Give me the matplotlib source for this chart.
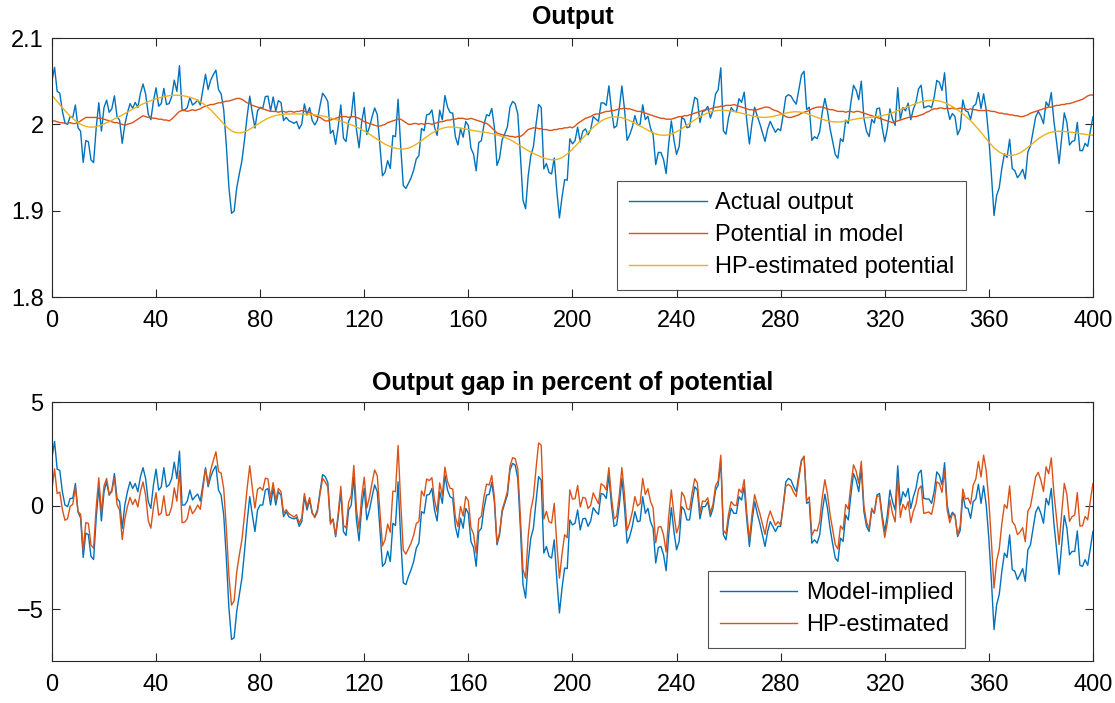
import matplotlib
matplotlib.use("Agg")
import matplotlib.pyplot as plt
import numpy as np

plt.rcParams["font.family"] = ["Liberation Sans", "DejaVu Sans"]

# model-implied output gap, percent of potential (t = 0..400)
model_gap = [
    2.3, 3.1, 1.76, 1.7, 0.67, 0.03, -0.05, 0.35, 0.35, 1.07,
    -0.29, -0.6, -2.5, -1.33, -1.4, -2.45, -2.6, -0.6, 0.9, -0.74,
    0.67, 1.15, 0.5, 0.75, 1.55, 0.35, 0.19, -1.1, 0.03, 0.67,
    1.15, 0.83, 1.07, 0.67, 1.4, 1.83, 1.3, 0.19, -0.13, 1.0,
    1.76, 0.75, 0.9, 1.83, 0.9, 1.0, 1.3, 2.1, 1.3, 2.63,
    0.03, 0.03, 0.22, 0.75, 0.27, 0.43, 0.56, 0.22, 1.0, 1.83,
    0.91, 1.4, 1.71, 1.92, 0.75, 0.51, -0.45, -2.53, -4.94, -6.46,
    -6.38, -5.1, -4.3, -3.5, -2.2, -0.77, 0.43, -0.45, -1.25, -0.21,
    0.03, 0.03, 0.75, 0.83, 0.03, 0.83, 0.03, 0.67, 0.51, -0.53,
    -0.29, -0.53, -0.6, -0.64, -0.58, -1.0, -0.77, 0.43, -0.21, 0.27,
    -0.37, -0.53, -0.21, 0.67, 1.5, 1.4, 1.12, -0.77, -0.64, -1.5,
    -0.53, 0.67, -1.25, -1.44, -0.21, 0.03, 1.4, -0.69, -1.7, -0.13,
    0.83, -0.69, -0.21, 0.43, 1.0, 0.67, -1.09, -2.93, -2.77, -2.2,
    -2.7, -0.85, -0.96, 1.15, -1.57, -3.73, -3.81, -3.41, -3.09, -2.69,
    -2.05, -1.81, -0.29, -0.37, 0.51, 0.54, 0.83, -0.21, -0.74, 0.67,
    0.11, 1.47, 0.75, 0.43, 0.35, -1.0, -1.54, -0.6, -1.09, -0.13,
    -0.37, -1.73, -2.02, -2.93, -1.25, -1.09, -0.13, 0.51, 0.54, 1.12,
    0.19, -1.89, -1.41, -0.29, 0.11, 0.51, 1.71, 2.04, 1.96, 1.31,
    -1.09, -3.81, -4.46, -2.69, -1.57, -1.09, 0.19, 1.4, 1.23, -2.29,
    -1.97, -2.45, -2.53, -1.65, -3.57, -5.18, -3.97, -3.01, -3.04, -0.69,
    -0.93, -0.85, -0.21, -1.17, -0.64, -0.61, -1.0, -0.74, -0.1, -0.29,
    -0.42, 0.59, 0.54, 0.35, 1.47, 0.03, -1.0, -0.93, 0.03, 1.31,
    -0.05, -1.81, -1.49, -1.0, -0.29, -0.77, -0.74, 0.43, -0.37, -0.13,
    -0.77, -1.09, -2.77, -2.02, -1.97, -2.37, -3.14, -1.41, -0.1, -1.25,
    -2.13, -1.73, -0.05, -0.21, -0.69, -0.69, 0.19, 0.91, 0.75, -0.64,
    -0.05, -0.05, 0.19, -0.53, -0.13, 0.75, 1.0, 2.2, -1.41, -1.65,
    -0.69, -0.13, -0.37, -0.37, 0.43, 0.27, 0.91, -0.69, -1.97, -0.77,
    0.19, -0.37, -0.85, -1.41, -1.97, -1.25, -0.77, -1.0, -1.25, -1.0,
    -1.0, 0.03, 1.15, 1.31, 1.23, 0.91, 0.67, 1.47, 2.2, 2.36,
    0.11, 0.19, -1.81, -1.65, -1.81, -1.41, -0.29, 0.55, -0.13, -1.09,
    -1.85, -2.53, -2.69, -1.57, -1.73, -0.45, -0.69, 0.51, 1.55, 1.23,
    0.67, 1.79, -0.29, -1.0, -1.25, -0.21, -0.37, 0.51, 0.59, -0.45,
    -1.25, -0.45, 0.75, 0.19, -0.21, 1.92, 0.03, 0.67, 0.43, 0.83,
    -0.13, 0.43, 0.83, 1.55, 1.71, 0.35, 0.32, 0.32, 0.11, 0.67,
    1.63, 1.47, 1.0, 2.07, 0.03, -0.61, -0.32, -0.45, -1.49, -1.2,
    0.51, -0.1, -0.13, -0.61, 0.19, 0.32, 1.03, 0.11, 0.96, 0.03,
    -1.57, -3.65, -5.98, -4.78, -4.29, -3.17, -2.29, -2.5, -1.41, -3.09,
    -3.17, -3.57, -3.33, -3.04, -3.65, -2.13, -1.89, -1.09, -0.32, -0.05,
    -0.37, -0.85, 0.35, 0.03, 0.83, -0.85, -2.05, -3.33, -1.89, -0.48,
    -1.09, -2.37, -2.21, -2.21, -1.22, -2.88, -2.93, -2.61, -2.88, -2.05,
    -1.25,
]

# potential output in the model (t = 0..400)
potential = [
    2.004, 2.004, 2.003, 2.002, 2.002, 2.001, 2.001, 2.002, 2.001, 2.001,
    2.002, 2.004, 2.006, 2.008, 2.008, 2.008, 2.008, 2.008, 2.007, 2.007,
    2.006, 2.005, 2.004, 2.003, 2.002, 2.002, 2.001, 2.000, 1.999, 2.000,
    2.001, 2.002, 2.004, 2.006, 2.008, 2.010, 2.009, 2.008, 2.008, 2.007,
    2.007, 2.006, 2.006, 2.005, 2.005, 2.004, 2.006, 2.009, 2.012, 2.015,
    2.016, 2.016, 2.015, 2.016, 2.017, 2.016, 2.017, 2.018, 2.020, 2.021,
    2.022, 2.023, 2.023, 2.024, 2.025, 2.025, 2.026, 2.027, 2.027, 2.028,
    2.029, 2.030, 2.030, 2.029, 2.027, 2.025, 2.024, 2.022, 2.021, 2.020,
    2.019, 2.018, 2.017, 2.016, 2.015, 2.015, 2.015, 2.014, 2.015, 2.015,
    2.014, 2.015, 2.015, 2.014, 2.015, 2.015, 2.016, 2.015, 2.015, 2.014,
    2.012, 2.010, 2.009, 2.008, 2.006, 2.004, 2.004, 2.005, 2.006, 2.007,
    2.008, 2.009, 2.009, 2.009, 2.008, 2.009, 2.009, 2.008, 2.007, 2.005,
    2.003, 2.002, 2.001, 2.000, 1.999, 1.998, 1.998, 1.999, 2.000, 2.002,
    2.003, 2.004, 2.005, 2.006, 2.006, 2.004, 2.002, 2.000, 2.000, 2.001,
    2.001, 2.000, 2.001, 2.000, 2.001, 2.001, 2.000, 2.001, 2.002, 2.003,
    2.003, 2.004, 2.005, 2.005, 2.006, 2.006, 2.007, 2.007, 2.007, 2.006,
    2.006, 2.007, 2.006, 2.005, 2.004, 2.003, 2.002, 2.001, 1.999, 1.996,
    1.993, 1.990, 1.989, 1.988, 1.987, 1.987, 1.986, 1.986, 1.985, 1.986,
    1.986, 1.988, 1.991, 1.994, 1.995, 1.996, 1.996, 1.995, 1.995, 1.994,
    1.994, 1.993, 1.993, 1.994, 1.994, 1.995, 1.995, 1.996, 1.996, 1.997,
    1.996, 1.998, 2.001, 2.003, 2.005, 2.007, 2.008, 2.009, 2.011, 2.012,
    2.012, 2.013, 2.014, 2.015, 2.015, 2.016, 2.016, 2.017, 2.018, 2.018,
    2.019, 2.018, 2.018, 2.017, 2.016, 2.015, 2.015, 2.014, 2.013, 2.012,
    2.011, 2.010, 2.009, 2.008, 2.007, 2.007, 2.006, 2.006, 2.006, 2.007,
    2.008, 2.009, 2.009, 2.010, 2.010, 2.011, 2.012, 2.013, 2.014, 2.015,
    2.016, 2.017, 2.017, 2.018, 2.019, 2.020, 2.020, 2.021, 2.021, 2.022,
    2.022, 2.022, 2.023, 2.022, 2.021, 2.020, 2.019, 2.018, 2.017, 2.017,
    2.016, 2.017, 2.018, 2.019, 2.020, 2.020, 2.019, 2.017, 2.016, 2.015,
    2.013, 2.011, 2.009, 2.008, 2.008, 2.009, 2.010, 2.011, 2.013, 2.014,
    2.015, 2.016, 2.018, 2.019, 2.020, 2.020, 2.020, 2.019, 2.018, 2.017,
    2.017, 2.016, 2.015, 2.015, 2.015, 2.014, 2.015, 2.015, 2.014, 2.015,
    2.015, 2.014, 2.013, 2.012, 2.011, 2.010, 2.009, 2.008, 2.007, 2.006,
    2.005, 2.004, 2.003, 2.002, 2.003, 2.004, 2.005, 2.006, 2.007, 2.008,
    2.008, 2.009, 2.009, 2.010, 2.011, 2.012, 2.014, 2.015, 2.017, 2.018,
    2.018, 2.019, 2.019, 2.018, 2.019, 2.018, 2.019, 2.018, 2.018, 2.019,
    2.018, 2.018, 2.017, 2.018, 2.017, 2.017, 2.016, 2.016, 2.016, 2.016,
    2.016, 2.015, 2.015, 2.014, 2.013, 2.013, 2.012, 2.012, 2.011, 2.011,
    2.010, 2.010, 2.009, 2.009, 2.010, 2.011, 2.013, 2.014, 2.015, 2.016,
    2.017, 2.018, 2.019, 2.020, 2.020, 2.021, 2.022, 2.022, 2.023, 2.023,
    2.024, 2.024, 2.025, 2.026, 2.027, 2.028, 2.029, 2.031, 2.033, 2.034,
    2.034,
]

x_ticks = [0, 40, 80, 120, 160, 200, 240, 280, 320, 360, 400]
hp_lambda = 1600

BLUE = "#0072BD"
ORANGE = "#D95319"
YELLOW = "#EDB120"
AXIS = "#262626"


def hp_filter(y, lam):
    n = len(y)
    d = np.zeros((n - 2, n))
    for i in range(n - 2):
        d[i, i:i + 3] = [1.0, -2.0, 1.0]
    return np.linalg.solve(np.eye(n) + lam * d.T @ d, y)


gap = np.array(model_gap)
pot = np.array(potential)
t = np.arange(len(gap))
actual = pot * (1 + gap / 100)
hp_trend = hp_filter(actual, hp_lambda)
hp_gap = (actual / hp_trend - 1) * 100


def style_axes(ax):
    ax.set_xlim(0, 400)
    ax.set_xticks(x_ticks)
    ax.tick_params(direction="in", length=6, width=0.8, colors=AXIS,
                   labelcolor="black", labelsize=17, top=True, right=True)
    ax.tick_params(axis="x", pad=9)
    ax.tick_params(axis="y", pad=6)
    for s in ax.spines.values():
        s.set_color(AXIS)
        s.set_linewidth(0.8)


def add_legend(ax, anchor):
    leg = ax.legend(loc="lower left", bbox_to_anchor=anchor, fontsize=17,
                    handlelength=3.3, frameon=True, fancybox=False, borderpad=0.5,
                    labelspacing=0.42, handletextpad=0.35, borderaxespad=0)
    leg.get_frame().set_edgecolor(AXIS)
    leg.get_frame().set_linewidth(0.8)
    return leg


fig = plt.figure(figsize=(11.15, 7.03), dpi=100)
ax1 = fig.add_axes([0.0466, 0.5775, 0.9336, 0.3684])
ax2 = fig.add_axes([0.0466, 0.0597, 0.9336, 0.3684])

ax1.plot(t, actual, color=BLUE, lw=1.0, label="Actual output")
ax1.plot(t, pot, color=ORANGE, lw=1.0, label="Potential in model")
ax1.plot(t, hp_trend, color=YELLOW, lw=1.0, label="HP-estimated potential")
ax1.set_ylim(1.8, 2.1)
ax1.set_yticks([1.8, 1.9, 2.0, 2.1])
ax1.set_yticklabels(["1.8", "1.9", "2", "2.1"])
ax1.set_title("Output", fontsize=18, fontweight="bold", pad=10)
style_axes(ax1)
add_legend(ax1, (0.543, 0.027))

ax2.plot(t, gap, color=BLUE, lw=1.0, label="Model-implied")
ax2.plot(t, hp_gap, color=ORANGE, lw=1.0, label="HP-estimated")
ax2.set_ylim(-7.5, 5)
ax2.set_yticks([-5, 0, 5])
ax2.set_title("Output gap in percent of potential", fontsize=18, fontweight="bold", pad=9)
style_axes(ax2)
add_legend(ax2, (0.630, 0.05))

fig.savefig("out.png", dpi=100)
